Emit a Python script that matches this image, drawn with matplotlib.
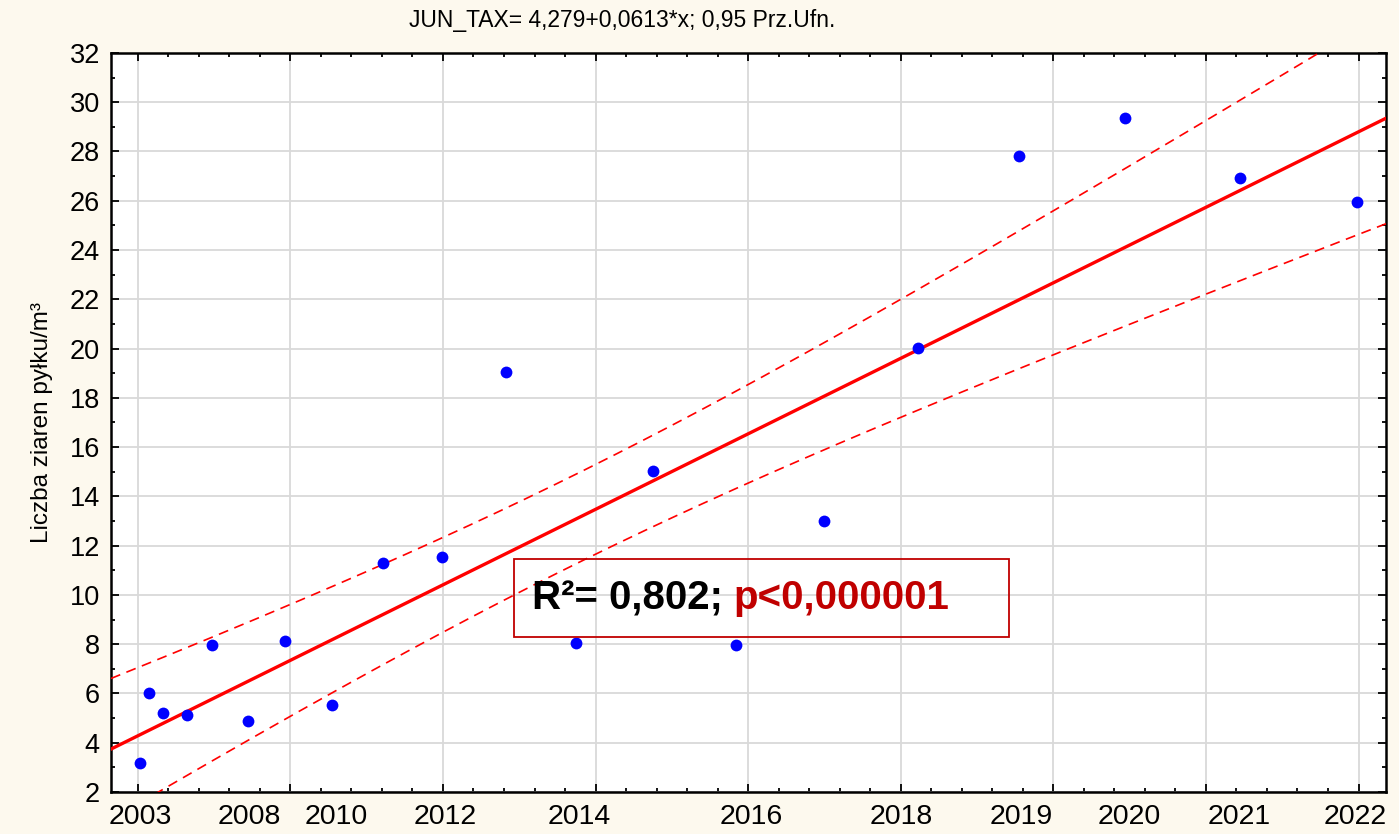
import numpy as np
import matplotlib

matplotlib.use("Agg")
import matplotlib.pyplot as plt
from matplotlib.patches import Rectangle
from matplotlib.ticker import MultipleLocator


# regression from the chart title
intercept = 4.279
slope = 0.0613

x_pts = [0.7, 3.6, 8.2, 16.0, 24.2, 36.0, 48.2, 63.6, 80.3, 99.6,
         120.6, 143.5, 168.7, 196.0, 225.0, 255.6, 288.7, 323.4, 361.0, 399.4]
y_pts = [3.17, 6.02, 5.2, 5.12, 7.96, 4.88, 8.13, 5.53, 11.3, 11.54,
         19.05, 8.05, 15.03, 7.96, 13.0, 20.02, 27.82, 29.36, 26.93, 25.95]

year_labels = ["2003", "2008", "2010", "2012", "2014", "2016",
               "2018", "2019", "2020", "2021", "2022"]
year_pos = [0.7, 36.7, 64.9, 100.6, 144.5, 200.9, 250.3, 289.6, 325.0, 361.0, 398.8]

xmin, xmax = -8.8, 409.0
ymin, ymax = 2, 32

bg = "#fdf9ee"
dark_red = "#c00000"

plt.rcParams["font.family"] = ["Liberation Sans", "DejaVu Sans"]

fig = plt.figure(figsize=(13.99, 8.34), dpi=100, facecolor=bg)
ax = fig.add_axes([0.0793, 0.0504, 0.9114, 0.8861])
ax.set_facecolor("white")

x = np.array(x_pts)
y = np.array(y_pts)
n = len(x)

# 0.95 confidence band of the mean around the regression line
resid = y - (intercept + slope * x)
s = np.sqrt(np.sum(resid**2) / (n - 2))
t_crit = 2.101
sxx = np.sum((x - x.mean()) ** 2)

x_line = np.linspace(xmin, xmax, 400)
y_line = intercept + slope * x_line
half = t_crit * s * np.sqrt(1.0 / n + (x_line - x.mean()) ** 2 / sxx)

ax.plot(x_line, y_line + half, color="red", lw=1.2, dashes=(6, 4), zorder=3)
ax.plot(x_line, y_line - half, color="red", lw=1.2, dashes=(6, 4), zorder=3)
ax.plot(x_line, y_line, color="red", lw=2.4, zorder=4)

ax.plot(x, y, "o", color="#0000ff", ms=8.5, mec="none", zorder=5)

ax.set_xlim(xmin, xmax)
ax.set_ylim(ymin, ymax)

ax.xaxis.set_major_locator(MultipleLocator(50))
ax.xaxis.set_minor_locator(MultipleLocator(10))
ax.yaxis.set_major_locator(MultipleLocator(2))
ax.yaxis.set_minor_locator(MultipleLocator(1))
ax.grid(True, which="major", color="#d9d9d9", lw=1.3, zorder=0)
ax.set_axisbelow(True)

ax.tick_params(which="both", direction="in", top=True, right=True,
               labelbottom=False, width=1.3, color="black")
ax.tick_params(which="major", length=6)
ax.tick_params(which="minor", length=3)
ax.tick_params(axis="y", labelsize=19.5, pad=8)
for sp in ax.spines.values():
    sp.set_linewidth(1.8)

sec = ax.secondary_xaxis("bottom")
sec.set_xticks(year_pos, year_labels)
sec.tick_params(length=0, labelsize=20.5, pad=9)
sec.spines["bottom"].set_visible(False)

ax.set_ylabel("Liczba ziaren pyłku/m³", fontsize=17.5, labelpad=12)

fig.text(622 / 1399, 0.976, "JUN_TAX= 4,279+0,0613*x; 0,95 Prz.Ufn.",
         ha="center", va="center", fontsize=16.5)

ax.add_patch(Rectangle((0.316, 0.21), 0.388, 0.105, transform=ax.transAxes,
                       fill=False, edgecolor=dark_red, lw=1.3, zorder=6))
t1 = ax.text(0.330, 0.262, "R²= 0,802; ", transform=ax.transAxes,
             fontsize=29, fontweight="bold", color="black", va="center", zorder=7)
ax.annotate("p<0,000001", xy=(1, 0), xycoords=t1, va="bottom", ha="left",
            fontsize=29, fontweight="bold", color=dark_red, zorder=7)

fig.savefig("out.png", dpi=100, facecolor=bg)
